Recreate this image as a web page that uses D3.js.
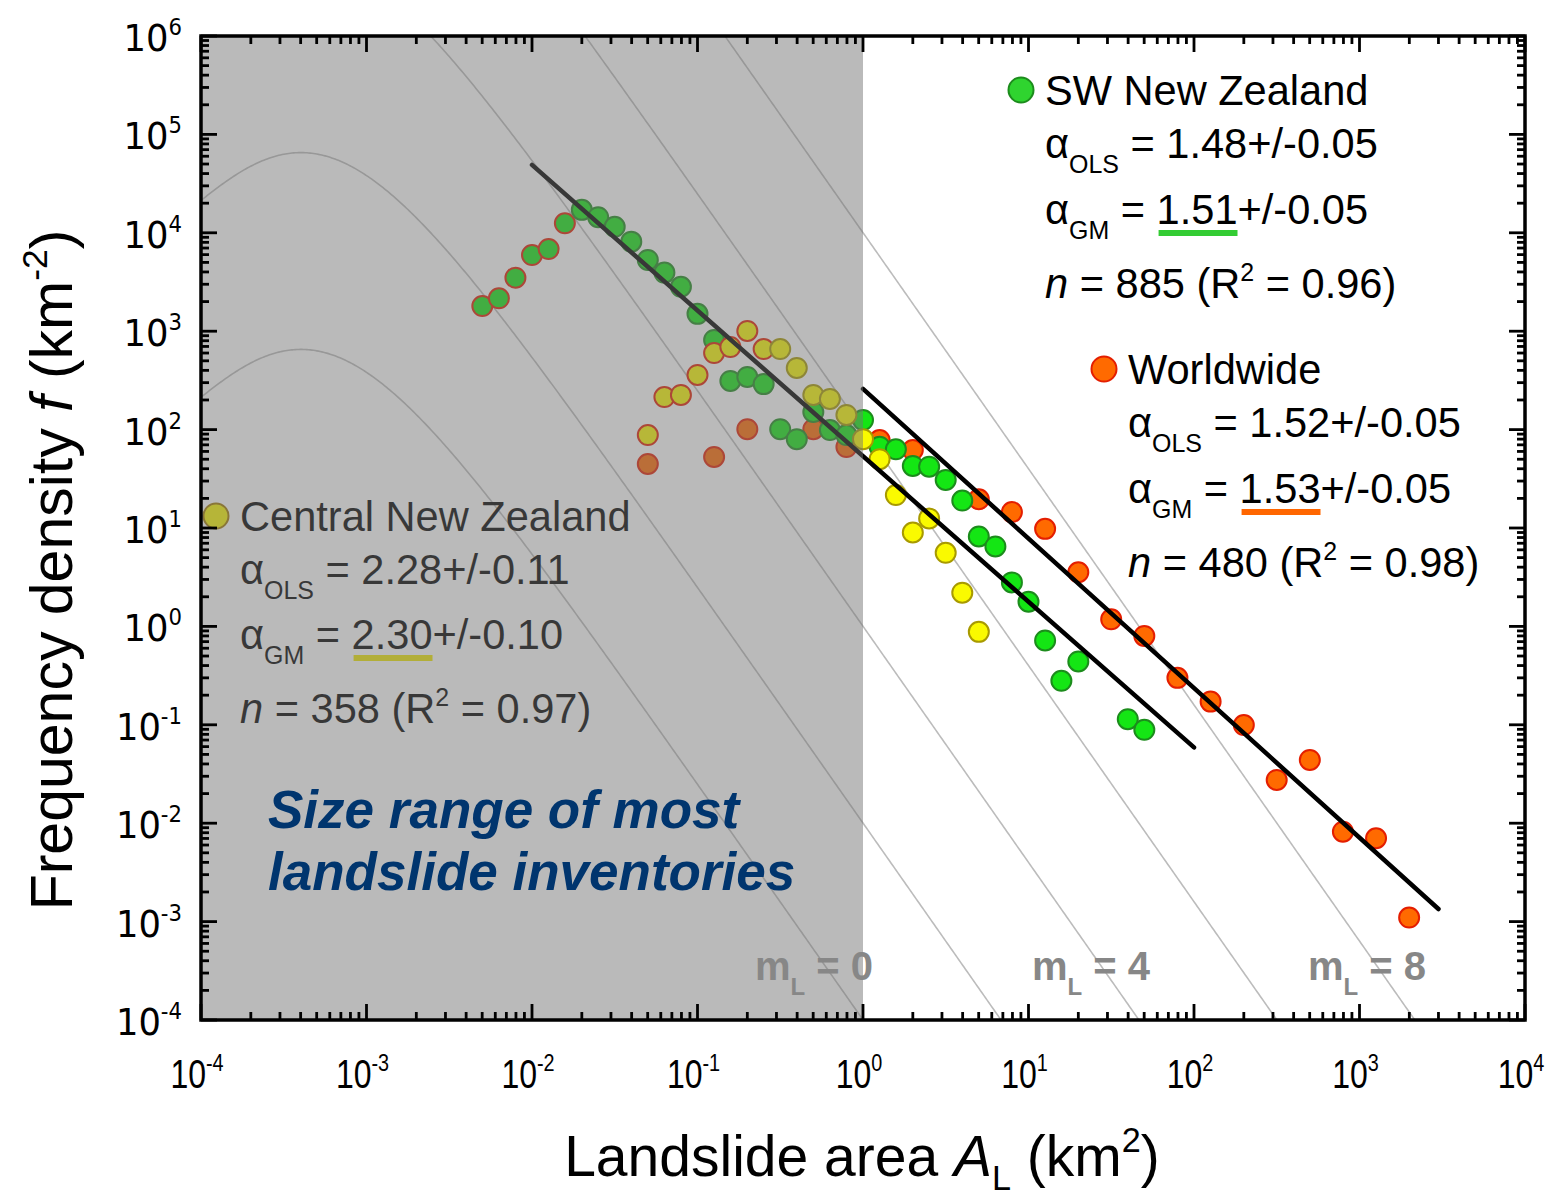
<!DOCTYPE html>
<html>
<head>
<meta charset="utf-8">
<script src="https://cdn.jsdelivr.net/npm/d3@7"></script>
<style>
  html, body { margin: 0; padding: 0; background: #ffffff; }
  svg { display: block; }
</style>
</head>
<body>
<svg id="chart" width="1560" height="1202"></svg>
<script>
// ---------- Data: landslide area bins (km^2) and frequency density (km^-2) ----------

// SW New Zealand inventory
const swArea = [0.00501, 0.00631, 0.00794, 0.0100, 0.0126, 0.0158, 0.0200, 0.0251, 0.0316, 0.0398,
                0.0501, 0.0631, 0.0794, 0.100, 0.126, 0.158, 0.200, 0.251, 0.316, 0.398,
                0.501, 0.631, 0.794, 1.00, 1.26, 1.58, 2.00, 2.51, 3.16, 3.98,
                5.01, 6.31, 7.94, 10.0, 12.6, 15.8, 20.0, 39.8, 50.1];
const swDensity = [1800, 2160, 3500, 5940, 6840, 12500, 17100, 14400, 11500, 8130,
                   5300, 3940, 2830, 1500, 815, 312, 343, 290, 101, 80,
                   151, 99, 88, 125, 67, 63, 42.7, 42, 30.8, 19,
                   8.2, 6.5, 2.8, 1.78, 0.72, 0.28, 0.44, 0.114, 0.089];
const swRolloverMax = 0.016;   // bins at or below the rollover

// Central New Zealand inventory
const cnArea = [0.0501, 0.0631, 0.0794, 0.100, 0.126, 0.158, 0.200, 0.251, 0.316, 0.398,
                0.501, 0.631, 0.794, 1.00, 1.26, 1.58, 2.00, 2.51, 3.16, 3.98, 5.01];
const cnDensity = [88, 214, 225, 359, 600, 690, 1005, 659, 659, 423,
                   225, 205, 141, 80, 50, 21.6, 9.0, 12.5, 5.6, 2.2, 0.88];
const cnRolloverMax = 0.26;

// Worldwide inventory
const wwArea = [0.0501, 0.126, 0.200, 0.501, 0.794, 1.26, 2.00, 5.01, 7.94, 12.6,
                20.0, 31.6, 50.1, 79.4, 126, 200, 316, 501, 794, 1259, 1995];
const wwDensity = [44.7, 52.7, 101, 101, 66.5, 78.3, 62, 19.6, 14.5, 9.8,
                   3.55, 1.18, 0.80, 0.30, 0.172, 0.0995, 0.0275, 0.0439, 0.0082, 0.00703, 0.0011];

// Power-law fits f = c * A^-alpha
const swAlphaOLS = 1.48, swAlphaGM = 1.51, swFitC = 53.7, swFitRange = [0.01, 100];
const wwAlphaOLS = 1.52, wwAlphaGM = 1.53, wwFitC = 259, wwFitRange = [1, 3000];
const cnAlphaOLS = 2.28, cnAlphaGM = 2.30;

// Inverse-gamma reference curves for landslide-event magnitudes m_L
const mLValues = [0, 2, 4, 6, 8];
const igRho = 1.40, igA = 1.28e-3, igS = -1.32e-4, gammaRho = 0.88726;

// Axis tick exponents
const xExponents = [-4, -3, -2, -1, 0, 1, 2, 3, 4];
const yExponents = [6, 5, 4, 3, 2, 1, 0, -1, -2, -3, -4];

// ---------- Layout ----------
const plot = { left: 201, right: 1525, top: 36, bottom: 1020 };
const svg = d3.select("#chart");
svg.append("rect").attr("width", 1560).attr("height", 1202).attr("fill", "#ffffff");

const x = d3.scaleLog().domain([1e-4, 1e4]).range([plot.left, plot.right]);
const y = d3.scaleLog().domain([1e-4, 1e6]).range([plot.bottom, plot.top]);

svg.append("clipPath").attr("id", "plotClip")
  .append("rect").attr("x", plot.left).attr("y", plot.top)
  .attr("width", plot.right - plot.left).attr("height", plot.bottom - plot.top);

const body = svg.append("g").attr("clip-path", "url(#plotClip)");

// ---------- Reference curves ----------
const curveAreas = d3.range(0, 801).map(i => Math.pow(10, -4 + i * 0.01));
function igDensity(A, mL) {
  const u = igA / (A - igS);
  return Math.pow(10, mL) / (igA * gammaRho) * Math.pow(u, igRho + 1) * Math.exp(-u);
}
const curveLine = d3.line().x(d => x(d[0])).y(d => y(d[1]));
mLValues.forEach(mL => {
  const pts = curveAreas.map(A => [A, igDensity(A, mL)]).filter(d => d[1] > 1e-6 && d[1] < 1e8);
  body.append("path").attr("d", curveLine(pts))
    .attr("fill", "none").attr("stroke", "#bcbcbc").attr("stroke-width", 1.6);
});

// ---------- Data points ----------
function drawSeries(area, dens, fill, stroke, rollFill, rollStroke, rollMax) {
  body.append("g").selectAll("circle")
    .data(area.map((a, i) => ({ a, f: dens[i] })))
    .join("circle")
    .attr("cx", d => x(d.a)).attr("cy", d => y(d.f)).attr("r", 10)
    .attr("fill", d => (rollMax && d.a <= rollMax) ? rollFill : fill)
    .attr("stroke", d => (rollMax && d.a <= rollMax) ? rollStroke : stroke)
    .attr("stroke-width", 2);
}
drawSeries(wwArea, wwDensity, "#ff6a00", "#e41e00");
drawSeries(swArea, swDensity, "#14e614", "#1c8c1c", "#14e614", "#e41e00", swRolloverMax);
drawSeries(cnArea, cnDensity, "#fafa00", "#a89a00", "#fafa00", "#e41e00", cnRolloverMax);

// ---------- Fit lines ----------
function fitLine(c, alpha, range) {
  const pts = range.map(A => [A, c * Math.pow(A, -alpha)]);
  body.append("path").attr("d", curveLine(pts))
    .attr("fill", "none").attr("stroke", "#000").attr("stroke-width", 4.5).attr("stroke-linecap", "round");
}
fitLine(swFitC, swAlphaOLS, swFitRange);
fitLine(wwFitC, wwAlphaOLS, wwFitRange);

// ---------- Rich text helper ----------
function rich(parent, x0, y0, parts, o) {
  const g = parent.append("g").attr("transform", `translate(${x0},${y0})${o.rotate ? ` rotate(${o.rotate})` : ""} scale(${o.sx || 1},1)`);
  const t = g.append("text")
    .attr("font-family", o.family || "'Liberation Sans', Arial, sans-serif")
    .attr("font-size", o.size).attr("fill", o.fill || "#000")
    .attr("text-anchor", o.anchor || "start")
    .attr("font-weight", o.weight || "normal")
    .attr("font-style", o.style || "normal");
  let shift = 0;
  parts.forEach(p => {
    const ts = t.append("tspan").text(p.t);
    let target = 0, fs = o.size;
    if (p.sub) { target = o.size * (o.subShift || 0.36); fs = o.size * (o.subSize || 0.6); }
    if (p.sup) { target = -o.size * (o.supShift || 0.4); fs = o.size * (o.supSize || 0.6); }
    ts.attr("dy", target - shift).attr("font-size", fs);
    if (p.it) ts.attr("font-style", "italic");
    if (p.mark) ts.classed("mark", true);
    shift = target;
  });
  return { g, t };
}

function underline(block, color, offset) {
  const m = block.t.select("tspan.mark").node();
  const bb = m.getBBox();
  block.g.append("rect").attr("x", bb.x + 2).attr("y", offset).attr("width", bb.width - 2)
    .attr("height", 6).attr("fill", color);
}

const legendFont = { size: 42, sx: 0.99 };

function legendBlock(layer, x0, baselines, title, markerFill, markerStroke, olsVal, olsErr, gmVal, gmErr, n, r2, ulColor) {
  layer.append("circle").attr("cx", x0 - 24).attr("cy", baselines[0] - 15).attr("r", 12.5)
    .attr("fill", markerFill).attr("stroke", markerStroke).attr("stroke-width", 2);
  rich(layer, x0, baselines[0], [{ t: title }], legendFont);
  rich(layer, x0, baselines[1], [{ t: "α" }, { t: "OLS", sub: true }, { t: ` = ${olsVal.toFixed(2)}+/-${olsErr}` }], legendFont);
  const gm = rich(layer, x0, baselines[2], [{ t: "α" }, { t: "GM", sub: true }, { t: " = " }, { t: gmVal.toFixed(2), mark: true }, { t: `+/-${gmErr}` }], legendFont);
  underline(gm, ulColor, 6);
  rich(layer, x0, baselines[3], [{ t: "n", it: true }, { t: ` = ${n} (R` }, { t: "2", sup: true }, { t: ` = ${r2})` }], legendFont);
}

// Central NZ legend sits inside the shaded range (drawn before the shading)
const underLayer = svg.append("g");
legendBlock(underLayer, 240, [531, 584, 649, 723], "Central New Zealand", "#f8f500", "#a07a00",
  cnAlphaOLS, "0.11", cnAlphaGM, "0.10", 358, "0.97", "#f0e800");

// ---------- Shaded size range (A <= 1 km^2) ----------
svg.append("rect")
  .attr("x", x(1e-4)).attr("y", plot.top)
  .attr("width", x(1) - x(1e-4)).attr("height", plot.bottom - plot.top)
  .attr("fill", "#737373").attr("fill-opacity", 0.49);

// ---------- Frame and ticks ----------
const tickG = svg.append("g");
const xTicks = x.ticks(20), yTicks = y.ticks(30);
const isMajor = v => Math.abs(Math.log10(v) - Math.round(Math.log10(v))) < 1e-6;
const majLen = 16, minLen = 8;

tickG.selectAll("line.xb").data(xTicks).join("line")
  .attr("x1", d => x(d)).attr("x2", d => x(d))
  .attr("y1", plot.bottom).attr("y2", d => plot.bottom - (isMajor(d) ? majLen : minLen));
tickG.selectAll("line.xt").data(xTicks).join("line").attr("class", "xt")
  .attr("x1", d => x(d)).attr("x2", d => x(d))
  .attr("y1", plot.top).attr("y2", d => plot.top + (isMajor(d) ? majLen : minLen));
tickG.selectAll("line.yl").data(yTicks).join("line").attr("class", "yl")
  .attr("y1", d => y(d)).attr("y2", d => y(d))
  .attr("x1", plot.left).attr("x2", d => plot.left + (isMajor(d) ? majLen : minLen));
tickG.selectAll("line.yr").data(yTicks).join("line").attr("class", "yr")
  .attr("y1", d => y(d)).attr("y2", d => y(d))
  .attr("x1", plot.right).attr("x2", d => plot.right - (isMajor(d) ? majLen : minLen));
tickG.selectAll("line").attr("stroke", "#000").attr("stroke-width", 2.8);

svg.append("rect").attr("x", plot.left).attr("y", plot.top)
  .attr("width", plot.right - plot.left).attr("height", plot.bottom - plot.top)
  .attr("fill", "none").attr("stroke", "#000").attr("stroke-width", 3.5);

// ---------- Tick labels ----------
xExponents.forEach(e => {
  rich(svg, x(Math.pow(10, e)) - 4, 1088, [{ t: "10" }, { t: String(e), sup: true }],
    { size: 40, sx: 0.8, anchor: "middle", supShift: 0.42, supSize: 0.62 });
});
yExponents.forEach(e => {
  rich(svg, 182, y(Math.pow(10, e)) + 15, [{ t: "10" }, { t: String(e), sup: true }],
    { size: 38, sx: 0.93, anchor: "end", family: "'DejaVu Sans', Verdana, sans-serif", supShift: 0.42, supSize: 0.6 });
});

// ---------- Axis titles ----------
rich(svg, 862, 1176, [{ t: "Landslide area " }, { t: "A", it: true }, { t: "L", sub: true }, { t: " (km" }, { t: "2", sup: true }, { t: ")" }],
  { size: 57, anchor: "middle", subShift: 0.24, supShift: 0.42 });
rich(svg, 72, 570, [{ t: "Frequency density " }, { t: "f", it: true }, { t: " (km" }, { t: "-2", sup: true }, { t: ")" }],
  { size: 59, anchor: "middle", rotate: -90, supShift: 0.42 });

// ---------- Magnitude labels ----------
const mLabel = { size: 40, sx: 1.0, weight: "bold", fill: "#878787", subShift: 0.38, subSize: 0.6 };
[[755, 0], [1032, 4], [1308, 8]].forEach(([px, m]) => {
  rich(svg, px, 980, [{ t: "m" }, { t: "L", sub: true }, { t: ` = ${m}` }], mLabel);
});

// ---------- Annotation ----------
const noteStyle = { size: 53, weight: "bold", style: "italic", fill: "#00356e" };
rich(svg, 268, 828, [{ t: "Size range of most" }], noteStyle);
rich(svg, 268, 890, [{ t: "landslide inventories" }], noteStyle);

// ---------- Legends in the unshaded area ----------
legendBlock(svg, 1045, [105, 158, 224, 298], "SW New Zealand", "#2fd42f", "#1c8c1c",
  swAlphaOLS, "0.05", swAlphaGM, "0.05", 885, "0.96", "#33cc33");
legendBlock(svg, 1128, [384, 437, 503, 577], "Worldwide", "#ff6a00", "#e41e00",
  wwAlphaOLS, "0.05", wwAlphaGM, "0.05", 480, "0.98", "#ff6600");
</script>
</body>
</html>
